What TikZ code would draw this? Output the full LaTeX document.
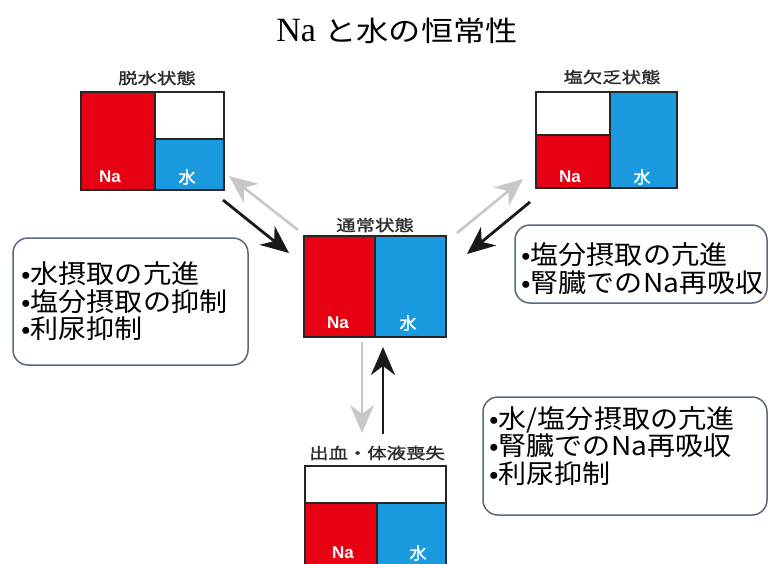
\documentclass[tikz,border=0pt]{standalone}
\usepackage{fontspec}
\setmainfont{Liberation Serif}
\newfontfamily\jptitle[FakeStretch=1.15]{Noto Sans CJK JP}
\newfontfamily\jpnote[FakeStretch=1.08]{Noto Sans CJK JP}
\newfontfamily\jplbl[FakeStretch=1.25,FakeBold=1.5]{Noto Sans CJK JP}
\newfontfamily\jpin[FakeBold=2]{Noto Sans CJK JP}
\newfontfamily\sansb{Liberation Sans}
\usetikzlibrary{arrows.meta,calc}
\definecolor{nared}{RGB}{230,0,18}
\definecolor{wblue}{RGB}{27,154,224}
\definecolor{edgegray}{RGB}{90,104,124}
\definecolor{lightarr}{RGB}{200,200,200}
\definecolor{lblgray}{RGB}{45,45,45}
\tikzset{
  statebox/.style={draw=black!85, line width=1.4pt, inner sep=0pt},
  redpart/.style={fill=nared},
  bluepart/.style={fill=wblue},
  statelbl/.style={inner sep=0pt, text=lblgray, font=\jplbl\fontsize{15.5}{15.5}\selectfont},
  inlbl/.style={inner sep=0pt, text=white, font=\fontsize{17}{17}\selectfont},
  notebox/.style={draw=edgegray, line width=1.5pt, rounded corners=15pt, inner sep=0pt},
  notetext/.style={inner sep=0pt, anchor=west, align=left, font=\jpnote\fontsize{26}{27.5}\selectfont},
  grayarrow/.style={draw=lightarr, line width=2.6pt, -{Stealth[length=28pt,width=24pt,inset=9pt]}},
  blackarrow/.style={draw=black!90, line width=2.8pt, -{Stealth[length=28pt,width=24pt,inset=9pt]}}
}
\begin{document}
\begin{tikzpicture}[x=1pt,y=-1pt]
\useasboundingbox (0,0) rectangle (771,563);
\clip (0,0) rectangle (771,563);
\fill[white] (0,0) rectangle (771,563);

% title
\node[inner sep=0pt] (title) at (397,31) {\fontsize{34}{34}\selectfont Na {\jptitle\fontsize{28}{28}\selectfont と水の恒常性}};

% dehydration
\fill[redpart] (81,92) rectangle (155,190);
\fill[bluepart] (155,139) rectangle (224,190);
\draw[black!85, line width=1.4pt] (155,92) -- (155,190) (155,139) -- (224,139);
\node[statebox, minimum width=143pt, minimum height=98pt] (dehyd) at (152.5,141) {};
\node[statelbl] (dehydlbl) at (157,78) {脱水状態};
\node[inlbl] (dehydna) at (110,177) {\sansb\bfseries Na};
\node[inlbl] (dehydw) at (187,177) {\jpin 水};

% salt deficit
\fill[redpart] (536,135) rectangle (610,188);
\fill[bluepart] (610,92) rectangle (677,188);
\draw[black!85, line width=1.4pt] (610,92) -- (610,188) (536,135) -- (610,135);
\node[statebox, minimum width=141pt, minimum height=96pt] (salt) at (606.5,140) {};
\node[statelbl] (saltlbl) at (612,77) {塩欠乏状態};
\node[inlbl] (saltna) at (570,177) {\sansb\bfseries Na};
\node[inlbl] (saltw) at (642,177) {\jpin 水};

% normal
\fill[redpart] (304,236) rectangle (375,337);
\fill[bluepart] (375,236) rectangle (446,337);
\draw[black!85, line width=1.4pt] (375,236) -- (375,337);
\node[statebox, minimum width=142pt, minimum height=101pt] (normal) at (375,286.5) {};
\node[statelbl] (normallbl) at (375,225) {通常状態};
\node[inlbl] (normalna) at (338,323) {\sansb\bfseries Na};
\node[inlbl] (normalw) at (408,323) {\jpin 水};

% bleeding
\fill[redpart] (305,503) rectangle (377,575);
\fill[bluepart] (377,503) rectangle (446,575);
\draw[black!85, line width=1.4pt] (305,503) -- (446,503) (377,503) -- (377,575);
\node[statebox, minimum width=141pt, minimum height=109pt] (bleed) at (375.5,520.5) {};
\node[statelbl] (bleedlbl) at (377,453) {出血・体液喪失};
\node[inlbl] (bleedna) at (343,553) {\sansb\bfseries Na};
\node[inlbl] (bleedw) at (418,553) {\jpin 水};

% note boxes
\node[notebox, minimum width=235pt, minimum height=127pt] (noteL) at (130.5,301.5) {};
\node[notetext] (noteLt) at (21,301.5) {•水摂取の亢進\\•塩分摂取の抑制\\•利尿抑制};

\node[notebox, minimum width=252pt, minimum height=78pt] (noteR) at (641,264) {};
\node[notetext] (noteRt) at (521,268.5) {•塩分摂取の亢進\\•腎臓でのNa再吸収};

\node[notebox, minimum width=284pt, minimum height=118pt] (noteB) at (625,456) {};
\node[notetext] (noteBt) at (489,446) {•水/塩分摂取の亢進\\•腎臓でのNa再吸収\\•利尿抑制};

% arrow endpoints
\coordinate (g1s) at (298,230); \coordinate (g1e) at (229,176);
\coordinate (b1s) at (223,200); \coordinate (b1e) at (289,253);
\coordinate (g2s) at (457,233); \coordinate (g2e) at (523,179);
\coordinate (b2s) at (530,202); \coordinate (b2e) at (467,254);
\coordinate (g3s) at (362,342); \coordinate (g3e) at (362,433);
\coordinate (b3s) at (383,434); \coordinate (b3e) at (383,347);

\draw[grayarrow] (g1s) -- (g1e);
\draw[blackarrow] (b1s) -- (b1e);
\draw[grayarrow] (g2s) -- (g2e);
\draw[blackarrow] (b2s) -- (b2e);
\draw[grayarrow] (g3s) -- (g3e);
\draw[blackarrow] (b3s) -- (b3e);
\end{tikzpicture}
\end{document}
